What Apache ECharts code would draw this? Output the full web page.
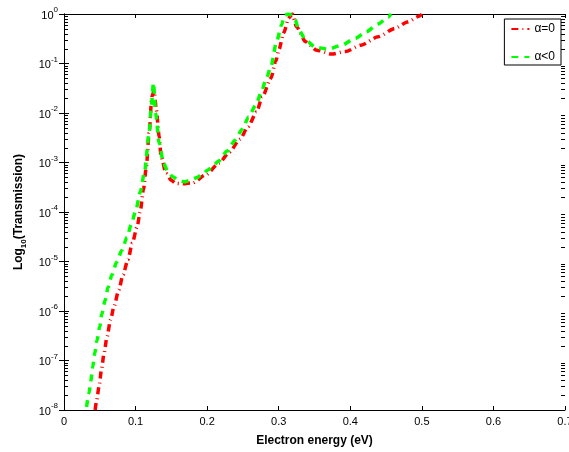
<!DOCTYPE html>
<html>
<head>
<meta charset="utf-8">
<script src="https://cdn.jsdelivr.net/npm/echarts@6/dist/echarts.min.js"></script>
<style>html,body{margin:0;padding:0;background:#fff}#c{width:569px;height:452px}</style>
</head>
<body>
<div id="c"></div>
<script>
// Electron energy (eV) and log10(transmission)
const energyZero = [0.0435,0.0454,0.049,0.0523,0.056,0.060,0.065,0.070,0.0764,0.0824,0.0894,0.0954,0.102,0.1065,0.111,0.115,0.119,0.1227,0.126,0.129,0.133,0.1356,0.1426,0.150,0.156,0.166,0.180,0.198,0.217,0.231,0.246,0.257,0.269,0.277,0.289,0.296,0.300,0.307,0.314,0.319,0.325,0.3375,0.353,0.374,0.393,0.415,0.439,0.4625,0.480,0.497,0.500];
const logZero    = [-8.0,-7.83,-7.52,-7.19,-6.85,-6.53,-6.18,-5.90,-5.58,-5.27,-4.96,-4.63,-4.31,-3.99,-3.55,-3.09,-2.40,-1.67,-1.55,-1.94,-2.48,-2.88,-3.22,-3.36,-3.42,-3.43,-3.41,-3.25,-3.01,-2.79,-2.53,-2.28,-1.98,-1.68,-1.30,-0.95,-0.73,-0.38,-0.08,0,-0.26,-0.56,-0.73,-0.81,-0.76,-0.63,-0.46,-0.29,-0.16,-0.04,0];
const energyNeg  = [0.0315,0.035,0.0375,0.040,0.043,0.046,0.050,0.0528,0.0574,0.0616,0.067,0.0736,0.081,0.088,0.094,0.100,0.1065,0.1125,0.119,0.122,0.125,0.128,0.133,0.139,0.145,0.152,0.160,0.168,0.176,0.185,0.193,0.201,0.209,0.216,0.228,0.239,0.249,0.258,0.268,0.276,0.282,0.289,0.297,0.304,0.308,0.313,0.318,0.323,0.328,0.338,0.351,0.369,0.388,0.407,0.422,0.439,0.453,0.457];
const logNeg     = [-7.94,-7.66,-7.41,-7.14,-6.85,-6.60,-6.32,-6.06,-5.79,-5.52,-5.27,-5.01,-4.77,-4.51,-4.25,-3.99,-3.60,-3.19,-2.41,-1.85,-1.39,-2.00,-2.61,-3.01,-3.18,-3.29,-3.36,-3.39,-3.36,-3.31,-3.24,-3.15,-3.06,-2.97,-2.77,-2.55,-2.33,-2.08,-1.84,-1.57,-1.33,-1.07,-0.56,-0.22,-0.03,0,-0.02,-0.12,-0.32,-0.53,-0.67,-0.71,-0.63,-0.49,-0.36,-0.20,-0.06,0];
const seriesNames = ['\u03b1=0', '\u03b1<0'];
const xRange = [0, 0.7];
const decades = [-8,-7,-6,-5,-4,-3,-2,-1,0];
const minorSteps = [2,3,4,5,6,7,8,9];

const toPairs = (xs, ls) => xs.map((x, i) => [x, Math.pow(10, ls[i])]);
const minorData = [];
decades.slice(0, -1).forEach(d => minorSteps.forEach(m => {
  minorData.push([0.35, m * Math.pow(10, d)]);
}));

const FONT = '"Liberation Sans", Arial, Helvetica, sans-serif';
const chart = echarts.init(document.getElementById('c'), null, {renderer: 'canvas'});
const tickLabel = v => {
  const e = Math.round(Math.log10(v));
  return '{b|10}{s|' + (e === 0 ? '0' : '-' + Math.abs(e)) + '}';
};
chart.setOption({
  animation: false,
  backgroundColor: '#fff',
  textStyle: {fontFamily: FONT},
  grid: {left: 64, right: 4, top: 14, bottom: 42, containLabel: false, outerBoundsMode: 'none'},
  legend: {
    right: 8, top: 19, orient: 'vertical',
    data: seriesNames,
    itemWidth: 18, itemHeight: 10, itemGap: 16,
    padding: [4, 6, 2, 6],
    borderColor: '#000', borderWidth: 1, backgroundColor: '#fff',
    itemStyle: {opacity: 0},
    textStyle: {fontFamily: FONT, fontSize: 12, color: '#000'}
  },
  xAxis: [{
    type: 'value', min: xRange[0], max: xRange[1], interval: 0.1, position: 'bottom',
    name: 'Electron energy (eV)', nameLocation: 'middle', nameGap: 25,
    nameTextStyle: {fontFamily: FONT, fontSize: 12, fontWeight: 'bold', color: '#000'},
    axisLine: {lineStyle: {color: '#000', width: 1}},
    axisTick: {inside: true, length: 4, lineStyle: {color: '#000'}},
    axisLabel: {fontFamily: FONT, fontSize: 11, color: '#000', margin: 6, hideOverlap: false,
      formatter: v => String(Math.round(v * 10) / 10)},
    splitLine: {show: false}
  }, {
    type: 'value', min: xRange[0], max: xRange[1], interval: 0.1, position: 'top',
    axisLine: {lineStyle: {color: '#000', width: 1}},
    axisTick: {inside: true, length: 4, lineStyle: {color: '#000'}},
    axisLabel: {show: false}, splitLine: {show: false}
  }],
  yAxis: [{
    type: 'log', logBase: 10, min: 1e-8, max: 1, position: 'left',
    name: '{a|Log}{u|10}{a|(Transmission)}', nameLocation: 'middle', nameGap: 38,
    nameTextStyle: {rich: {
      a: {fontFamily: FONT, fontSize: 12, fontWeight: 'bold', color: '#000', verticalAlign: 'bottom', lineHeight: 16},
      u: {fontFamily: FONT, fontSize: 8, fontWeight: 'bold', color: '#000', verticalAlign: 'bottom', lineHeight: 16, padding: [0, 0, -3, 0]}
    }},
    axisLine: {lineStyle: {color: '#000', width: 1}},
    axisTick: {inside: true, length: 5, lineStyle: {color: '#000'}},
    axisLabel: {margin: 6, formatter: tickLabel, rich: {
      b: {fontFamily: FONT, fontSize: 11, color: '#000', verticalAlign: 'bottom', lineHeight: 14},
      s: {fontFamily: FONT, fontSize: 8, color: '#000', verticalAlign: 'bottom', lineHeight: 14, padding: [0, 0, 7, 0]}
    }},
    splitLine: {show: false}
  }, {
    type: 'log', logBase: 10, min: 1e-8, max: 1, position: 'right',
    axisLine: {lineStyle: {color: '#000', width: 1}},
    axisTick: {inside: true, length: 5, lineStyle: {color: '#000'}},
    axisLabel: {show: false}, splitLine: {show: false}
  }],
  series: [{
    name: seriesNames[0], type: 'line', data: toPairs(energyZero, logZero),
    symbol: 'none', smooth: 0.25, smoothMonotone: 'x', clip: true,
    lineStyle: {color: '#ff0000', width: 3.5, type: [7, 4, 1, 4]},
    itemStyle: {color: '#ff0000'}, z: 3
  }, {
    name: seriesNames[1], type: 'line', data: toPairs(energyNeg, logNeg),
    symbol: 'none', smooth: 0.25, smoothMonotone: 'x', clip: true,
    lineStyle: {color: '#00ff00', width: 3.5, type: [7, 6]},
    itemStyle: {color: '#00ff00'}, z: 4
  }, {
    name: 'minorTicks', type: 'custom', coordinateSystem: 'cartesian2d',
    xAxisIndex: 0, yAxisIndex: 0,
    data: minorData, silent: true, z: 10, clip: false,
    encode: {x: 0, y: 1},
    renderItem: (params, api) => {
      const p = api.coord([api.value(0), api.value(1)]);
      const cs = params.coordSys;
      const y = Math.round(p[1]) + 0.5;
      const xl = cs.x, xr = cs.x + cs.width;
      return {type: 'group', children: [
        {type: 'line', shape: {x1: xl, y1: y, x2: xl + 4, y2: y}, style: {stroke: '#000', lineWidth: 1}},
        {type: 'line', shape: {x1: xr, y1: y, x2: xr - 4, y2: y}, style: {stroke: '#000', lineWidth: 1}}
      ]};
    }
  }]
});
</script>
</body>
</html>
